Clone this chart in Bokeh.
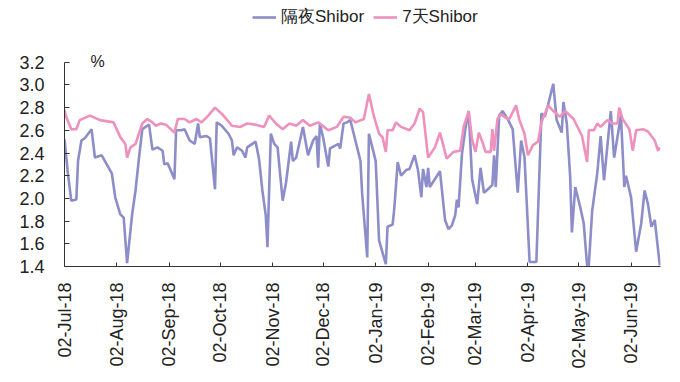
import numpy as np
import pandas as pd
from bokeh.plotting import figure
from bokeh.models import (FixedTicker, DatetimeTickFormatter, Legend, LegendItem,
                          Label, Range1d, PrintfTickFormatter)
from bokeh.embed import file_html
from bokeh.resources import INLINE

# 隔夜Shibor (overnight)
on_dates = ["2018-07-02","2018-07-04","2018-07-06","2018-07-09","2018-07-10","2018-07-12","2018-07-14","2018-07-18","2018-07-20","2018-07-24","2018-07-27","2018-07-30","2018-08-01","2018-08-04","2018-08-06","2018-08-08","2018-08-11","2018-08-13","2018-08-15","2018-08-17","2018-08-21","2018-08-23","2018-08-26","2018-08-29","2018-08-30","2018-09-01","2018-09-05","2018-09-06","2018-09-09","2018-09-11","2018-09-14","2018-09-17","2018-09-19","2018-09-20","2018-09-24","2018-09-26","2018-09-29","2018-09-30","2018-10-03","2018-10-07","2018-10-09","2018-10-10","2018-10-12","2018-10-15","2018-10-17","2018-10-18","2018-10-23","2018-10-25","2018-10-27","2018-10-29","2018-10-30","2018-11-01","2018-11-03","2018-11-05","2018-11-08","2018-11-10","2018-11-13","2018-11-14","2018-11-16","2018-11-20","2018-11-23","2018-11-26","2018-11-28","2018-11-29","2018-11-30","2018-12-02","2018-12-05","2018-12-06","2018-12-11","2018-12-12","2018-12-14","2018-12-16","2018-12-18","2018-12-21","2018-12-24","2018-12-25","2018-12-28","2018-12-29","2018-12-31","2019-01-02","2019-01-04","2019-01-08","2019-01-09","2019-01-12","2019-01-13","2019-01-15","2019-01-17","2019-01-20","2019-01-22","2019-01-25","2019-01-27","2019-01-29","2019-01-30","2019-02-01","2019-02-02","2019-02-03","2019-02-09","2019-02-12","2019-02-14","2019-02-16","2019-02-18","2019-02-19","2019-02-20","2019-02-22","2019-02-24","2019-02-26","2019-02-28","2019-03-03","2019-03-05","2019-03-07","2019-03-10","2019-03-12","2019-03-13","2019-03-14","2019-03-16","2019-03-18","2019-03-21","2019-03-24","2019-03-27","2019-03-29","2019-03-31","2019-04-03","2019-04-07","2019-04-10","2019-04-12","2019-04-14","2019-04-17","2019-04-19","2019-04-22","2019-04-23","2019-04-25","2019-04-27","2019-04-28","2019-04-30","2019-05-03","2019-05-05","2019-05-07","2019-05-08","2019-05-10","2019-05-13","2019-05-15","2019-05-17","2019-05-21","2019-05-23","2019-05-27","2019-05-29","2019-05-30","2019-06-02","2019-06-05","2019-06-08","2019-06-10","2019-06-12","2019-06-14","2019-06-16","2019-06-19"]
on_vals = [2.52,2.22,1.98,1.99,2.33,2.51,2.53,2.61,2.36,2.38,2.30,2.22,2.01,1.86,1.83,1.43,1.86,2.07,2.35,2.61,2.65,2.43,2.45,2.42,2.30,2.31,2.17,2.60,2.60,2.61,2.51,2.48,2.66,2.54,2.55,2.53,2.08,2.67,2.64,2.57,2.51,2.38,2.45,2.42,2.36,2.45,2.50,2.35,2.07,1.85,1.57,2.57,2.48,2.45,1.98,2.14,2.50,2.33,2.36,2.63,2.38,2.51,2.55,2.27,2.66,2.53,2.28,2.44,2.48,2.44,2.66,2.67,2.69,2.51,2.33,2.04,1.48,2.57,2.45,2.33,1.63,1.42,1.75,1.77,1.91,2.32,2.20,2.25,2.26,2.38,2.25,2.01,2.26,2.10,2.27,2.10,2.24,1.81,1.73,1.76,1.85,1.99,1.92,2.39,2.61,2.77,2.17,1.95,2.27,2.05,2.09,2.12,2.38,2.10,2.73,2.77,2.70,2.61,2.05,2.51,2.36,1.44,1.44,2.75,2.72,2.83,3.01,2.69,2.58,2.85,2.66,2.19,1.70,2.10,1.92,1.78,1.41,1.41,1.89,2.22,2.55,2.16,2.77,2.36,2.73,2.10,2.20,2.01,1.53,1.78,2.07,1.95,1.75,1.81,1.41]

# 7天Shibor (7-day)
d7_dates = ["2018-07-02","2018-07-03","2018-07-06","2018-07-09","2018-07-11","2018-07-17","2018-07-23","2018-07-31","2018-08-04","2018-08-07","2018-08-08","2018-08-10","2018-08-13","2018-08-17","2018-08-20","2018-08-23","2018-08-25","2018-08-28","2018-08-31","2018-09-05","2018-09-07","2018-09-11","2018-09-14","2018-09-18","2018-09-21","2018-09-25","2018-09-29","2018-10-04","2018-10-09","2018-10-14","2018-10-18","2018-10-23","2018-10-28","2018-10-31","2018-11-04","2018-11-08","2018-11-12","2018-11-16","2018-11-20","2018-11-24","2018-11-29","2018-12-05","2018-12-10","2018-12-14","2018-12-18","2018-12-21","2018-12-26","2018-12-29","2019-01-01","2019-01-04","2019-01-06","2019-01-08","2019-01-09","2019-01-12","2019-01-14","2019-01-17","2019-01-22","2019-01-25","2019-01-28","2019-01-30","2019-02-02","2019-02-06","2019-02-09","2019-02-13","2019-02-17","2019-02-21","2019-02-23","2019-02-26","2019-02-28","2019-03-02","2019-03-04","2019-03-06","2019-03-08","2019-03-11","2019-03-12","2019-03-13","2019-03-15","2019-03-17","2019-03-20","2019-03-22","2019-03-26","2019-03-28","2019-03-31","2019-04-02","2019-04-05","2019-04-08","2019-04-10","2019-04-14","2019-04-17","2019-04-21","2019-04-24","2019-04-29","2019-05-04","2019-05-07","2019-05-08","2019-05-11","2019-05-13","2019-05-15","2019-05-19","2019-05-22","2019-05-25","2019-05-26","2019-05-28","2019-06-01","2019-06-03","2019-06-05","2019-06-09","2019-06-12","2019-06-16","2019-06-18","2019-06-19"]
d7_vals = [2.78,2.72,2.61,2.61,2.69,2.73,2.69,2.67,2.54,2.48,2.36,2.45,2.48,2.66,2.70,2.67,2.64,2.66,2.65,2.58,2.70,2.70,2.67,2.70,2.67,2.73,2.80,2.73,2.64,2.63,2.66,2.65,2.63,2.73,2.66,2.61,2.66,2.64,2.69,2.64,2.67,2.60,2.63,2.72,2.71,2.67,2.70,2.92,2.72,2.57,2.54,2.41,2.60,2.60,2.67,2.63,2.60,2.66,2.79,2.76,2.36,2.45,2.58,2.35,2.41,2.42,2.63,2.77,2.52,2.41,2.58,2.50,2.41,2.41,2.61,2.42,2.70,2.74,2.71,2.70,2.82,2.69,2.57,2.38,2.47,2.50,2.67,2.82,2.77,2.72,2.77,2.70,2.55,2.32,2.60,2.60,2.66,2.63,2.69,2.66,2.66,2.80,2.70,2.61,2.42,2.60,2.61,2.59,2.51,2.42,2.45]

tick_dates = ["2018-07-02","2018-08-02","2018-09-02","2018-10-02","2018-11-02","2018-12-02",
              "2019-01-02","2019-02-02","2019-03-02","2019-04-02","2019-05-02","2019-06-02"]
y_ticks = [1.4, 1.6, 1.8, 2.0, 2.2, 2.4, 2.6, 2.8, 3.0, 3.2]

on_x = pd.to_datetime(on_dates)
d7_x = pd.to_datetime(d7_dates)

def ms(s):
    return pd.Timestamp(s).value / 1e6

x_start = ms("2018-07-02")
x_end = ms("2019-06-19") + 0.4 * 86400000

# frame spans the full height above the x axis; the y axis line stops at 3.2
Y_MIN, Y_AXIS_TOP = 1.4, 3.2
Y_VIEW_TOP = 3.744

FONT = "Liberation Sans"
p = figure(width=672, height=374, x_axis_type="datetime", output_backend="svg",
           toolbar_location=None, x_range=Range1d(x_start, x_end),
           y_range=Range1d(Y_MIN, Y_VIEW_TOP),
           min_border_left=64, min_border_right=12, min_border_top=0, min_border_bottom=108)
p.outline_line_color = None
p.grid.visible = False
p.background_fill_color = "white"
p.border_fill_color = "white"

r_on = p.line(on_x, on_vals, line_color="#8D8DC9", line_width=2.6)
r_d7 = p.line(d7_x, d7_vals, line_color="#EE91BD", line_width=2.6)

xa = p.xaxis[0]
xa.ticker = FixedTicker(ticks=[ms(d) for d in tick_dates])
fmt = "%d-%b-%y"
xa.formatter = DatetimeTickFormatter(microseconds=fmt, milliseconds=fmt, seconds=fmt, minsec=fmt,
                                     minutes=fmt, hourmin=fmt, hours=fmt, days=fmt, months=fmt, years=fmt)
xa.major_label_orientation = np.pi / 2
xa.minor_tick_line_color = None
xa.major_tick_in = 4
xa.major_tick_out = 0
xa.major_label_standoff = 16
xa.major_label_text_font = FONT
xa.major_label_text_font_size = "18px"
xa.major_label_text_color = "#222222"
xa.axis_line_color = "#333333"
xa.major_tick_line_color = "#333333"

ya = p.yaxis[0]
ya.bounds = (Y_MIN, Y_AXIS_TOP)
ya.ticker = FixedTicker(ticks=y_ticks)
ya.formatter = PrintfTickFormatter(format="%.1f")
ya.minor_tick_line_color = None
ya.major_tick_in = 5
ya.major_tick_out = 0
ya.major_label_standoff = 20
ya.major_label_text_font = FONT
ya.major_label_text_font_size = "18px"
ya.major_label_text_color = "#222222"
ya.axis_line_color = "#333333"
ya.major_tick_line_color = "#333333"

pct = Label(x=26, y=205, x_units="screen", y_units="screen", text="%",
            text_font=FONT, text_font_size="16px", text_color="#222222", text_baseline="middle")
p.add_layout(pct)

legend = Legend(items=[LegendItem(label="隔夜Shibor", renderers=[r_on]),
                       LegendItem(label="7天Shibor", renderers=[r_d7])],
                orientation="horizontal", location=(188, 238), padding=0, spacing=9,
                glyph_width=24, label_standoff=5, label_text_font=FONT,
                label_text_font_size="17px", label_text_color="#222222",
                border_line_alpha=0, background_fill_alpha=0)
p.add_layout(legend)

open("out.html", "w").write(file_html(p, INLINE))
